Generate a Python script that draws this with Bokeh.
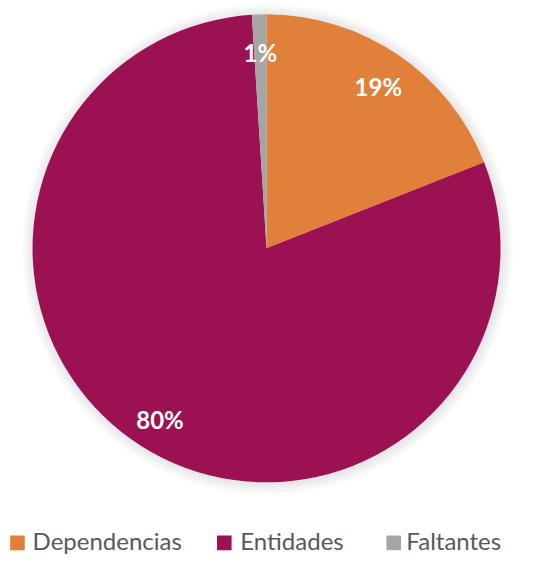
import math
from bokeh.plotting import figure
from bokeh.models import Range1d, ColumnDataSource
from bokeh.core.properties import value
from bokeh.embed import file_html
from bokeh.resources import INLINE

categories = ["Dependencias", "Entidades", "Faltantes"]
values = [19, 80, 1]
colors = ["#E0803A", "#9B1152", "#A5A5A5"]

W, H = 535, 555
IMG_W, IMG_H = 551, 571
S = W / IMG_W  # pixel scale of the reference frame
p = figure(width=W, height=H, output_backend="svg", toolbar_location=None,
           x_range=Range1d(0, IMG_W), y_range=Range1d(0, IMG_H),
           min_border=0, min_border_left=0, min_border_right=0,
           min_border_top=0, min_border_bottom=0)
p.axis.visible = False
p.grid.visible = False
p.outline_line_color = None
p.background_fill_color = "white"
p.border_fill_color = "white"

cx, cy, r = 274, IMG_H - 255, 241

# soft shadow
for k in range(1, 9):
    p.circle(x=[cx + 1], y=[cy - 1], radius=r + k * 1.5, fill_color="black",
             fill_alpha=0.012, line_color=None)

total = sum(values)
starts, ends, lx, ly, labels = [], [], [], [], []
cum = 0.0
for v in values:
    a0 = math.pi / 2 - cum / total * 2 * math.pi
    a1 = math.pi / 2 - (cum + v) / total * 2 * math.pi
    starts.append(a0)
    ends.append(a1)
    mid = (a0 + a1) / 2
    lx.append(cx + 0.85 * r * math.cos(mid))
    ly.append(cy + 0.85 * r * math.sin(mid) - 3)
    labels.append(f"{round(v / total * 100)}%")
    cum += v

src = ColumnDataSource(dict(start=starts, end=ends, color=colors, cat=categories))
p.wedge(x=cx, y=cy, radius=r, start_angle="start", end_angle="end",
        direction="clock", fill_color="color", line_color=None, source=src)

fs = f"{round(25 * S)}px"
p.text(x=lx, y=ly, text=labels, text_color="white", text_font=value("Lato"),
       text_font_style="bold", text_font_size=fs, text_align="center",
       text_baseline="middle")

# legend
leg_sq_x = [17.5, 230.5, 405]
leg_tx = [33, 247, 418]
mid_y = IMG_H - 557
p.rect(x=leg_sq_x, y=[mid_y - 1] * 3, width=15, height=15, fill_color=colors,
       line_color=None)
p.text(x=leg_tx, y=[mid_y + 1] * 3, text=categories, text_color="#595959",
       text_font=value("Lato"), text_font_size=fs, text_align="left",
       text_baseline="middle")

open("out.html", "w").write(file_html(p, INLINE))
